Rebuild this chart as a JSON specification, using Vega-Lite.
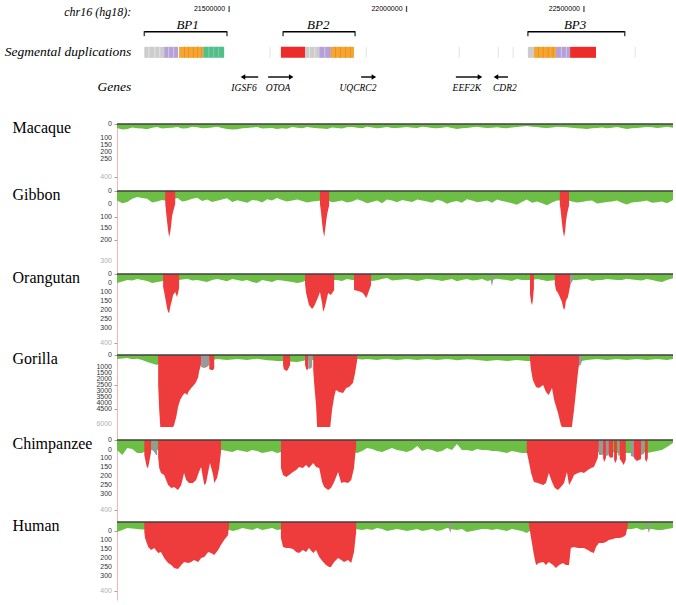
{
  "$schema": "https://vega.github.io/schema/vega-lite/v6.json",
  "background": "white",
  "padding": {"left": 4, "top": 2, "right": 4, "bottom": 2},
  "bounds": "flush",
  "spacing": 0,
  "resolve": {"scale": {"x": "independent", "y": "independent", "color": "independent", "shape": "independent"}},
  "config": {
    "view": {"stroke": null},
    "axisY": {
      "grid": false, "labels": false,
      "tickSize": 3, "tickColor": "#888888", "tickWidth": 0.8,
      "domainColor": "#f2b5b5", "domainWidth": 1,
      "titleAngle": 0, "titleAlign": "left", "titleBaseline": "middle", "titleX": -105, "titleY": 3,
      "titleFont": "Liberation Serif", "titleFontSize": 16, "titleFontWeight": "normal", "titleColor": "#000000"
    }
  },
  "datasets": {
    "ylab": [
      {"sp":"mac","x":21184,"v":0,"lab":"0","last":false},{"sp":"mac","x":21184,"v":100,"lab":"100","last":false},{"sp":"mac","x":21184,"v":150,"lab":"150","last":false},{"sp":"mac","x":21184,"v":200,"lab":"200","last":false},{"sp":"mac","x":21184,"v":250,"lab":"250","last":false},{"sp":"mac","x":21184,"v":380,"lab":"400","last":true},
      {"sp":"gib","x":21184,"v":0,"lab":"0","last":false},{"sp":"gib","x":21184,"v":55,"lab":"0","last":false},{"sp":"gib","x":21184,"v":110,"lab":"100","last":false},{"sp":"gib","x":21184,"v":156,"lab":"150","last":false},{"sp":"gib","x":21184,"v":207,"lab":"200","last":false},{"sp":"gib","x":21184,"v":295,"lab":"300","last":true},
      {"sp":"ora","x":21184,"v":0,"lab":"0","last":false},{"sp":"ora","x":21184,"v":50,"lab":"0","last":false},{"sp":"ora","x":21184,"v":100,"lab":"100","last":false},{"sp":"ora","x":21184,"v":150,"lab":"150","last":false},{"sp":"ora","x":21184,"v":200,"lab":"200","last":false},{"sp":"ora","x":21184,"v":250,"lab":"250","last":false},{"sp":"ora","x":21184,"v":300,"lab":"300","last":false},{"sp":"ora","x":21184,"v":383,"lab":"400","last":true},
      {"sp":"gor","x":21184,"v":0,"lab":"0","last":false},{"sp":"gor","x":21184,"v":1000,"lab":"1000","last":false},{"sp":"gor","x":21184,"v":1500,"lab":"1500","last":false},{"sp":"gor","x":21184,"v":2000,"lab":"2000","last":false},{"sp":"gor","x":21184,"v":2500,"lab":"2500","last":false},{"sp":"gor","x":21184,"v":3000,"lab":"3000","last":false},{"sp":"gor","x":21184,"v":3500,"lab":"3500","last":false},{"sp":"gor","x":21184,"v":4000,"lab":"4000","last":false},{"sp":"gor","x":21184,"v":4500,"lab":"4500","last":false},{"sp":"gor","x":21184,"v":5750,"lab":"6000","last":true},
      {"sp":"chi","x":21184,"v":0,"lab":"0","last":false},{"sp":"chi","x":21184,"v":54,"lab":"0","last":false},{"sp":"chi","x":21184,"v":100,"lab":"100","last":false},{"sp":"chi","x":21184,"v":150,"lab":"150","last":false},{"sp":"chi","x":21184,"v":200,"lab":"200","last":false},{"sp":"chi","x":21184,"v":250,"lab":"250","last":false},{"sp":"chi","x":21184,"v":300,"lab":"300","last":false},{"sp":"chi","x":21184,"v":389,"lab":"400","last":true},
      {"sp":"hum","x":21184,"v":50,"lab":"0","last":false},{"sp":"hum","x":21184,"v":100,"lab":"100","last":false},{"sp":"hum","x":21184,"v":150,"lab":"150","last":false},{"sp":"hum","x":21184,"v":200,"lab":"200","last":false},{"sp":"hum","x":21184,"v":250,"lab":"250","last":false},{"sp":"hum","x":21184,"v":300,"lab":"300","last":false},{"sp":"hum","x":21184,"v":383,"lab":"400","last":true}
    ],
    "bg": [
      {"x":21184,"mac":29,"gib":40,"ora":50,"gor":333,"chi":56,"hum":56},
      {"x":21199,"mac":40,"gib":52,"ora":42,"gor":290,"chi":83,"hum":45},
      {"x":21213,"mac":36,"gib":46,"ora":34,"gor":260,"chi":44,"hum":33},
      {"x":21227,"mac":25,"gib":33,"ora":36,"gor":350,"chi":50,"hum":36},
      {"x":21241,"mac":31,"gib":25,"ora":28,"gor":320,"chi":72,"hum":39},
      {"x":21255,"mac":33,"gib":30,"ora":34,"gor":420,"chi":72,"hum":42},
      {"x":21269,"mac":38,"gib":33,"ora":39,"gor":583,"chi":56,"hum":40},
      {"x":21283,"mac":27,"gib":48,"ora":50,"gor":700,"chi":56,"hum":40},
      {"x":21297,"mac":22,"gib":44,"ora":45,"gor":833,"chi":56,"hum":40},
      {"x":21311,"mac":33,"gib":38,"ora":40,"gor":500,"chi":56,"hum":40},
      {"x":21325,"mac":28,"gib":42,"ora":33,"gor":500,"chi":56,"hum":40},
      {"x":21340,"mac":26,"gib":36,"ora":33,"gor":500,"chi":56,"hum":40},
      {"x":21354,"mac":21,"gib":30,"ora":35,"gor":500,"chi":56,"hum":40},
      {"x":21368,"mac":33,"gib":44,"ora":30,"gor":500,"chi":56,"hum":40},
      {"x":21382,"mac":30,"gib":40,"ora":27,"gor":500,"chi":56,"hum":40},
      {"x":21396,"mac":20,"gib":33,"ora":36,"gor":500,"chi":56,"hum":40},
      {"x":21410,"mac":24,"gib":28,"ora":33,"gor":500,"chi":56,"hum":40},
      {"x":21424,"mac":31,"gib":42,"ora":39,"gor":500,"chi":56,"hum":40},
      {"x":21438,"mac":29,"gib":36,"ora":45,"gor":500,"chi":56,"hum":40},
      {"x":21452,"mac":25,"gib":46,"ora":33,"gor":420,"chi":56,"hum":40},
      {"x":21466,"mac":20,"gib":41,"ora":28,"gor":340,"chi":56,"hum":40},
      {"x":21480,"mac":29,"gib":36,"ora":34,"gor":380,"chi":56,"hum":40},
      {"x":21494,"mac":35,"gib":31,"ora":40,"gor":420,"chi":61,"hum":40},
      {"x":21509,"mac":40,"gib":46,"ora":28,"gor":380,"chi":67,"hum":50},
      {"x":21523,"mac":37,"gib":39,"ora":33,"gor":330,"chi":56,"hum":44},
      {"x":21537,"mac":31,"gib":44,"ora":39,"gor":370,"chi":61,"hum":33},
      {"x":21551,"mac":28,"gib":50,"ora":34,"gor":410,"chi":67,"hum":39},
      {"x":21565,"mac":25,"gib":38,"ora":45,"gor":360,"chi":56,"hum":44},
      {"x":21579,"mac":22,"gib":40,"ora":50,"gor":320,"chi":61,"hum":33},
      {"x":21593,"mac":33,"gib":48,"ora":33,"gor":370,"chi":72,"hum":44},
      {"x":21607,"mac":30,"gib":35,"ora":39,"gor":430,"chi":67,"hum":39},
      {"x":21621,"mac":29,"gib":40,"ora":44,"gor":460,"chi":61,"hum":33},
      {"x":21635,"mac":36,"gib":30,"ora":33,"gor":500,"chi":72,"hum":44},
      {"x":21649,"mac":30,"gib":38,"ora":36,"gor":500,"chi":67,"hum":40},
      {"x":21663,"mac":34,"gib":44,"ora":40,"gor":500,"chi":67,"hum":40},
      {"x":21678,"mac":22,"gib":40,"ora":45,"gor":560,"chi":67,"hum":40},
      {"x":21692,"mac":27,"gib":36,"ora":50,"gor":580,"chi":67,"hum":40},
      {"x":21706,"mac":31,"gib":42,"ora":44,"gor":500,"chi":67,"hum":40},
      {"x":21720,"mac":21,"gib":48,"ora":33,"gor":420,"chi":67,"hum":40},
      {"x":21734,"mac":26,"gib":44,"ora":33,"gor":420,"chi":67,"hum":40},
      {"x":21748,"mac":30,"gib":42,"ora":33,"gor":420,"chi":67,"hum":40},
      {"x":21762,"mac":33,"gib":40,"ora":33,"gor":420,"chi":67,"hum":40},
      {"x":21776,"mac":36,"gib":38,"ora":33,"gor":420,"chi":67,"hum":40},
      {"x":21790,"mac":25,"gib":47,"ora":33,"gor":420,"chi":67,"hum":40},
      {"x":21804,"mac":29,"gib":44,"ora":34,"gor":420,"chi":67,"hum":40},
      {"x":21818,"mac":33,"gib":40,"ora":39,"gor":420,"chi":67,"hum":40},
      {"x":21832,"mac":23,"gib":48,"ora":28,"gor":420,"chi":67,"hum":40},
      {"x":21847,"mac":21,"gib":44,"ora":33,"gor":420,"chi":67,"hum":40},
      {"x":21861,"mac":27,"gib":35,"ora":33,"gor":330,"chi":72,"hum":40},
      {"x":21875,"mac":31,"gib":42,"ora":28,"gor":380,"chi":61,"hum":44},
      {"x":21889,"mac":20,"gib":52,"ora":34,"gor":340,"chi":44,"hum":39},
      {"x":21903,"mac":25,"gib":46,"ora":39,"gor":370,"chi":50,"hum":44},
      {"x":21917,"mac":30,"gib":40,"ora":35,"gor":410,"chi":61,"hum":33},
      {"x":21931,"mac":26,"gib":52,"ora":28,"gor":360,"chi":67,"hum":39},
      {"x":21945,"mac":22,"gib":36,"ora":22,"gor":320,"chi":56,"hum":50},
      {"x":21959,"mac":29,"gib":40,"ora":36,"gor":380,"chi":44,"hum":44},
      {"x":21973,"mac":28,"gib":47,"ora":33,"gor":420,"chi":56,"hum":39},
      {"x":21988,"mac":25,"gib":38,"ora":30,"gor":370,"chi":61,"hum":44},
      {"x":22001,"mac":21,"gib":42,"ora":28,"gor":330,"chi":67,"hum":50},
      {"x":22016,"mac":26,"gib":46,"ora":33,"gor":380,"chi":56,"hum":44},
      {"x":22030,"mac":29,"gib":36,"ora":39,"gor":420,"chi":33,"hum":39},
      {"x":22044,"mac":20,"gib":40,"ora":33,"gor":380,"chi":61,"hum":50},
      {"x":22058,"mac":24,"gib":44,"ora":27,"gor":340,"chi":50,"hum":44},
      {"x":22072,"mac":29,"gib":50,"ora":30,"gor":380,"chi":56,"hum":39},
      {"x":22086,"mac":31,"gib":37,"ora":34,"gor":410,"chi":67,"hum":50},
      {"x":22100,"mac":27,"gib":42,"ora":39,"gor":370,"chi":61,"hum":44},
      {"x":22114,"mac":22,"gib":54,"ora":33,"gor":330,"chi":44,"hum":33},
      {"x":22128,"mac":29,"gib":46,"ora":28,"gor":380,"chi":56,"hum":40},
      {"x":22142,"mac":36,"gib":42,"ora":40,"gor":430,"chi":22,"hum":44},
      {"x":22156,"mac":31,"gib":50,"ora":34,"gor":390,"chi":56,"hum":39},
      {"x":22170,"mac":28,"gib":35,"ora":28,"gor":350,"chi":56,"hum":56},
      {"x":22185,"mac":24,"gib":40,"ora":36,"gor":380,"chi":61,"hum":50},
      {"x":22199,"mac":20,"gib":47,"ora":33,"gor":420,"chi":50,"hum":44},
      {"x":22213,"mac":25,"gib":44,"ora":28,"gor":460,"chi":56,"hum":39},
      {"x":22227,"mac":29,"gib":40,"ora":39,"gor":500,"chi":56,"hum":39},
      {"x":22241,"mac":26,"gib":50,"ora":33,"gor":460,"chi":61,"hum":44},
      {"x":22255,"mac":23,"gib":36,"ora":27,"gor":420,"chi":61,"hum":39},
      {"x":22269,"mac":28,"gib":42,"ora":30,"gor":460,"chi":67,"hum":44},
      {"x":22283,"mac":30,"gib":46,"ora":34,"gor":500,"chi":72,"hum":50},
      {"x":22297,"mac":25,"gib":52,"ora":39,"gor":450,"chi":61,"hum":39},
      {"x":22311,"mac":21,"gib":58,"ora":28,"gor":410,"chi":67,"hum":44},
      {"x":22325,"mac":18,"gib":46,"ora":33,"gor":450,"chi":72,"hum":50},
      {"x":22339,"mac":15,"gib":36,"ora":33,"gor":500,"chi":72,"hum":61},
      {"x":22354,"mac":20,"gib":50,"ora":33,"gor":500,"chi":67,"hum":40},
      {"x":22368,"mac":22,"gib":44,"ora":28,"gor":500,"chi":67,"hum":40},
      {"x":22382,"mac":26,"gib":52,"ora":33,"gor":500,"chi":67,"hum":40},
      {"x":22396,"mac":29,"gib":60,"ora":39,"gor":500,"chi":67,"hum":40},
      {"x":22410,"mac":25,"gib":48,"ora":36,"gor":500,"chi":67,"hum":40},
      {"x":22424,"mac":20,"gib":40,"ora":33,"gor":500,"chi":67,"hum":40},
      {"x":22438,"mac":22,"gib":40,"ora":33,"gor":500,"chi":67,"hum":40},
      {"x":22452,"mac":23,"gib":38,"ora":33,"gor":500,"chi":67,"hum":40},
      {"x":22466,"mac":27,"gib":44,"ora":33,"gor":500,"chi":67,"hum":40},
      {"x":22480,"mac":30,"gib":48,"ora":34,"gor":500,"chi":67,"hum":40},
      {"x":22494,"mac":33,"gib":46,"ora":30,"gor":500,"chi":67,"hum":40},
      {"x":22508,"mac":36,"gib":42,"ora":27,"gor":420,"chi":67,"hum":40},
      {"x":22523,"mac":30,"gib":40,"ora":39,"gor":380,"chi":67,"hum":40},
      {"x":22537,"mac":28,"gib":53,"ora":33,"gor":330,"chi":67,"hum":40},
      {"x":22551,"mac":25,"gib":50,"ora":33,"gor":380,"chi":72,"hum":40},
      {"x":22565,"mac":30,"gib":46,"ora":28,"gor":420,"chi":72,"hum":40},
      {"x":22579,"mac":27,"gib":44,"ora":30,"gor":380,"chi":67,"hum":40},
      {"x":22593,"mac":21,"gib":40,"ora":34,"gor":340,"chi":72,"hum":40},
      {"x":22607,"mac":29,"gib":50,"ora":33,"gor":370,"chi":72,"hum":40},
      {"x":22621,"mac":35,"gib":57,"ora":27,"gor":420,"chi":72,"hum":40},
      {"x":22635,"mac":31,"gib":48,"ora":30,"gor":380,"chi":72,"hum":39},
      {"x":22649,"mac":28,"gib":46,"ora":33,"gor":330,"chi":72,"hum":33},
      {"x":22663,"mac":25,"gib":44,"ora":36,"gor":370,"chi":67,"hum":44},
      {"x":22677,"mac":22,"gib":40,"ora":28,"gor":410,"chi":72,"hum":39},
      {"x":22692,"mac":24,"gib":50,"ora":33,"gor":380,"chi":67,"hum":39},
      {"x":22706,"mac":29,"gib":47,"ora":40,"gor":340,"chi":61,"hum":44},
      {"x":22720,"mac":25,"gib":44,"ora":44,"gor":380,"chi":56,"hum":44},
      {"x":22734,"mac":20,"gib":52,"ora":34,"gor":420,"chi":39,"hum":39},
      {"x":22751,"mac":27,"gib":38,"ora":24,"gor":330,"chi":17,"hum":33}
    ],
    "pk": [
      {"sp":"gib","g":"g1","c":"r","x":21320,"d":50},{"sp":"gib","g":"g1","c":"r","x":21322,"d":84},{"sp":"gib","g":"g1","c":"r","x":21325,"d":127},{"sp":"gib","g":"g1","c":"r","x":21328,"d":165},{"sp":"gib","g":"g1","c":"r","x":21331,"d":194},{"sp":"gib","g":"g1","c":"r","x":21334,"d":175},{"sp":"gib","g":"g1","c":"r","x":21337,"d":139},{"sp":"gib","g":"g1","c":"r","x":21339,"d":110},{"sp":"gib","g":"g1","c":"r","x":21342,"d":88},{"sp":"gib","g":"g1","c":"r","x":21345,"d":72},{"sp":"gib","g":"g1","c":"r","x":21348,"d":55},
      {"sp":"gib","g":"g2","c":"r","x":21756,"d":55},{"sp":"gib","g":"g2","c":"r","x":21759,"d":90},{"sp":"gib","g":"g2","c":"r","x":21762,"d":135},{"sp":"gib","g":"g2","c":"r","x":21765,"d":170},{"sp":"gib","g":"g2","c":"r","x":21768,"d":194},{"sp":"gib","g":"g2","c":"r","x":21770,"d":170},{"sp":"gib","g":"g2","c":"r","x":21773,"d":135},{"sp":"gib","g":"g2","c":"r","x":21776,"d":100},{"sp":"gib","g":"g2","c":"r","x":21779,"d":80},{"sp":"gib","g":"g2","c":"r","x":21782,"d":60},
      {"sp":"gib","g":"g3","c":"r","x":22432,"d":55},{"sp":"gib","g":"g3","c":"r","x":22435,"d":90},{"sp":"gib","g":"g3","c":"r","x":22438,"d":135},{"sp":"gib","g":"g3","c":"r","x":22441,"d":170},{"sp":"gib","g":"g3","c":"r","x":22444,"d":194},{"sp":"gib","g":"g3","c":"r","x":22447,"d":170},{"sp":"gib","g":"g3","c":"r","x":22449,"d":135},{"sp":"gib","g":"g3","c":"r","x":22452,"d":100},{"sp":"gib","g":"g3","c":"r","x":22455,"d":80},{"sp":"gib","g":"g3","c":"r","x":22458,"d":60},

      {"sp":"ora","g":"o1","c":"r","x":21314,"d":72},{"sp":"ora","g":"o1","c":"r","x":21317,"d":100},{"sp":"ora","g":"o1","c":"r","x":21322,"d":156},{"sp":"ora","g":"o1","c":"r","x":21325,"d":189},{"sp":"ora","g":"o1","c":"r","x":21328,"d":211},{"sp":"ora","g":"o1","c":"r","x":21331,"d":217},{"sp":"ora","g":"o1","c":"r","x":21334,"d":183},{"sp":"ora","g":"o1","c":"r","x":21339,"d":144},{"sp":"ora","g":"o1","c":"r","x":21342,"d":117},{"sp":"ora","g":"o1","c":"r","x":21348,"d":100},{"sp":"ora","g":"o1","c":"r","x":21351,"d":117},{"sp":"ora","g":"o1","c":"r","x":21353,"d":128},{"sp":"ora","g":"o1","c":"r","x":21356,"d":106},{"sp":"ora","g":"o1","c":"r","x":21359,"d":78},
      {"sp":"ora","g":"o2","c":"r","x":21714,"d":56},{"sp":"ora","g":"o2","c":"r","x":21717,"d":106},{"sp":"ora","g":"o2","c":"r","x":21725,"d":172},{"sp":"ora","g":"o2","c":"r","x":21734,"d":194},{"sp":"ora","g":"o2","c":"r","x":21740,"d":178},{"sp":"ora","g":"o2","c":"r","x":21751,"d":128},{"sp":"ora","g":"o2","c":"r","x":21756,"d":100},{"sp":"ora","g":"o2","c":"r","x":21762,"d":161},{"sp":"ora","g":"o2","c":"r","x":21765,"d":211},{"sp":"ora","g":"o2","c":"r","x":21770,"d":183},{"sp":"ora","g":"o2","c":"r","x":21779,"d":106},{"sp":"ora","g":"o2","c":"r","x":21787,"d":117},{"sp":"ora","g":"o2","c":"r","x":21796,"d":89},
      {"sp":"ora","g":"o3","c":"r","x":21852,"d":89},{"sp":"ora","g":"o3","c":"r","x":21863,"d":94},{"sp":"ora","g":"o3","c":"r","x":21872,"d":100},{"sp":"ora","g":"o3","c":"r","x":21877,"d":106},{"sp":"ora","g":"o3","c":"r","x":21883,"d":122},{"sp":"ora","g":"o3","c":"r","x":21886,"d":133},{"sp":"ora","g":"o3","c":"r","x":21889,"d":122},{"sp":"ora","g":"o3","c":"r","x":21894,"d":94},{"sp":"ora","g":"o3","c":"r","x":21900,"d":61},
      {"sp":"ora","g":"o4","c":"k","x":22238,"d":44},{"sp":"ora","g":"o4","c":"k","x":22241,"d":67},{"sp":"ora","g":"o4","c":"k","x":22244,"d":33},
      {"sp":"ora","g":"o5","c":"r","x":22348,"d":111},{"sp":"ora","g":"o5","c":"r","x":22351,"d":156},{"sp":"ora","g":"o5","c":"r","x":22354,"d":172},{"sp":"ora","g":"o5","c":"r","x":22356,"d":144},{"sp":"ora","g":"o5","c":"r","x":22359,"d":78},
      {"sp":"ora","g":"o6","c":"r","x":22418,"d":56},{"sp":"ora","g":"o6","c":"r","x":22421,"d":89},{"sp":"ora","g":"o6","c":"r","x":22427,"d":106},{"sp":"ora","g":"o6","c":"r","x":22432,"d":128},{"sp":"ora","g":"o6","c":"r","x":22438,"d":156},{"sp":"ora","g":"o6","c":"r","x":22441,"d":183},{"sp":"ora","g":"o6","c":"r","x":22444,"d":200},{"sp":"ora","g":"o6","c":"r","x":22447,"d":183},{"sp":"ora","g":"o6","c":"r","x":22449,"d":150},{"sp":"ora","g":"o6","c":"r","x":22455,"d":128},{"sp":"ora","g":"o6","c":"r","x":22461,"d":67},
      {"sp":"ora","g":"o7","c":"k","x":22461,"d":67},{"sp":"ora","g":"o7","c":"k","x":22463,"d":56},{"sp":"ora","g":"o7","c":"k","x":22469,"d":33},

      {"sp":"gor","g":"r1","c":"r","x":21300,"d":2500},{"sp":"gor","g":"r1","c":"r","x":21303,"d":4583},{"sp":"gor","g":"r1","c":"r","x":21306,"d":6000},{"sp":"gor","g":"r1","c":"r","x":21342,"d":6000},{"sp":"gor","g":"r1","c":"r","x":21345,"d":5833},{"sp":"gor","g":"r1","c":"r","x":21351,"d":5167},{"sp":"gor","g":"r1","c":"r","x":21356,"d":4333},{"sp":"gor","g":"r1","c":"r","x":21362,"d":3750},{"sp":"gor","g":"r1","c":"r","x":21370,"d":3333},{"sp":"gor","g":"r1","c":"r","x":21376,"d":3167},{"sp":"gor","g":"r1","c":"r","x":21382,"d":3333},{"sp":"gor","g":"r1","c":"r","x":21385,"d":3083},{"sp":"gor","g":"r1","c":"r","x":21393,"d":2750},{"sp":"gor","g":"r1","c":"r","x":21401,"d":2500},{"sp":"gor","g":"r1","c":"r","x":21407,"d":2250},{"sp":"gor","g":"r1","c":"r","x":21413,"d":1833},{"sp":"gor","g":"r1","c":"r","x":21415,"d":1417},{"sp":"gor","g":"r1","c":"r","x":21421,"d":750},
      {"sp":"gor","g":"k1","c":"k","x":21421,"d":1000},{"sp":"gor","g":"k1","c":"k","x":21430,"d":1083},{"sp":"gor","g":"k1","c":"k","x":21438,"d":1000},{"sp":"gor","g":"k1","c":"k","x":21444,"d":833},
      {"sp":"gor","g":"r2","c":"r","x":21444,"d":1167},{"sp":"gor","g":"r2","c":"r","x":21449,"d":1250},{"sp":"gor","g":"r2","c":"r","x":21455,"d":1250},{"sp":"gor","g":"r2","c":"r","x":21458,"d":1083},
      {"sp":"gor","g":"r3","c":"r","x":21652,"d":833},{"sp":"gor","g":"r3","c":"r","x":21654,"d":1167},{"sp":"gor","g":"r3","c":"r","x":21661,"d":1333},{"sp":"gor","g":"r3","c":"r","x":21665,"d":1250},{"sp":"gor","g":"r3","c":"r","x":21672,"d":833},
      {"sp":"gor","g":"r4","c":"r","x":21714,"d":833},{"sp":"gor","g":"r4","c":"r","x":21717,"d":1167},{"sp":"gor","g":"r4","c":"r","x":21720,"d":1250},{"sp":"gor","g":"r4","c":"r","x":21723,"d":1167},
      {"sp":"gor","g":"k2","c":"k","x":21723,"d":1083},{"sp":"gor","g":"k2","c":"k","x":21728,"d":1167},{"sp":"gor","g":"k2","c":"k","x":21734,"d":1000},
      {"sp":"gor","g":"r5","c":"r","x":21737,"d":1250},{"sp":"gor","g":"r5","c":"r","x":21740,"d":2500},{"sp":"gor","g":"r5","c":"r","x":21745,"d":4167},{"sp":"gor","g":"r5","c":"r","x":21748,"d":6000},{"sp":"gor","g":"r5","c":"r","x":21785,"d":6000},{"sp":"gor","g":"r5","c":"r","x":21790,"d":4583},{"sp":"gor","g":"r5","c":"r","x":21796,"d":3500},{"sp":"gor","g":"r5","c":"r","x":21801,"d":2917},{"sp":"gor","g":"r5","c":"r","x":21810,"d":3083},{"sp":"gor","g":"r5","c":"r","x":21821,"d":3167},{"sp":"gor","g":"r5","c":"r","x":21830,"d":2750},{"sp":"gor","g":"r5","c":"r","x":21838,"d":2667},{"sp":"gor","g":"r5","c":"r","x":21849,"d":2333},{"sp":"gor","g":"r5","c":"r","x":21855,"d":1500},{"sp":"gor","g":"r5","c":"r","x":21861,"d":417},
      {"sp":"gor","g":"r6","c":"r","x":22348,"d":417},{"sp":"gor","g":"r6","c":"r","x":22351,"d":1250},{"sp":"gor","g":"r6","c":"r","x":22356,"d":2083},{"sp":"gor","g":"r6","c":"r","x":22365,"d":2667},{"sp":"gor","g":"r6","c":"r","x":22373,"d":2750},{"sp":"gor","g":"r6","c":"r","x":22385,"d":2500},{"sp":"gor","g":"r6","c":"r","x":22393,"d":3083},{"sp":"gor","g":"r6","c":"r","x":22401,"d":3333},{"sp":"gor","g":"r6","c":"r","x":22410,"d":2750},{"sp":"gor","g":"r6","c":"r","x":22416,"d":3750},{"sp":"gor","g":"r6","c":"r","x":22427,"d":4833},{"sp":"gor","g":"r6","c":"r","x":22435,"d":5833},{"sp":"gor","g":"r6","c":"r","x":22438,"d":6000},{"sp":"gor","g":"r6","c":"r","x":22466,"d":6000},{"sp":"gor","g":"r6","c":"r","x":22472,"d":4583},{"sp":"gor","g":"r6","c":"r","x":22478,"d":2917},{"sp":"gor","g":"r6","c":"r","x":22483,"d":1500},{"sp":"gor","g":"r6","c":"r","x":22486,"d":833},
      {"sp":"gor","g":"k3","c":"k","x":22486,"d":833},{"sp":"gor","g":"k3","c":"k","x":22489,"d":917},{"sp":"gor","g":"k3","c":"k","x":22494,"d":583},

      {"sp":"chi","g":"c1","c":"r","x":21261,"d":83},{"sp":"chi","g":"c1","c":"r","x":21266,"d":133},{"sp":"chi","g":"c1","c":"r","x":21269,"d":156},{"sp":"chi","g":"c1","c":"r","x":21272,"d":150},{"sp":"chi","g":"c1","c":"r","x":21277,"d":100},{"sp":"chi","g":"c1","c":"r","x":21280,"d":67},
      {"sp":"chi","g":"c2","c":"k","x":21283,"d":56},{"sp":"chi","g":"c2","c":"k","x":21289,"d":67},{"sp":"chi","g":"c2","c":"k","x":21294,"d":83},{"sp":"chi","g":"c2","c":"k","x":21297,"d":83},
      {"sp":"chi","g":"c3","c":"r","x":21300,"d":94},{"sp":"chi","g":"c3","c":"r","x":21303,"d":156},{"sp":"chi","g":"c3","c":"r","x":21308,"d":183},{"sp":"chi","g":"c3","c":"r","x":21317,"d":194},{"sp":"chi","g":"c3","c":"r","x":21328,"d":250},{"sp":"chi","g":"c3","c":"r","x":21337,"d":267},{"sp":"chi","g":"c3","c":"r","x":21345,"d":261},{"sp":"chi","g":"c3","c":"r","x":21356,"d":278},{"sp":"chi","g":"c3","c":"r","x":21365,"d":250},{"sp":"chi","g":"c3","c":"r","x":21373,"d":183},{"sp":"chi","g":"c3","c":"r","x":21379,"d":222},{"sp":"chi","g":"c3","c":"r","x":21387,"d":239},{"sp":"chi","g":"c3","c":"r","x":21398,"d":239},{"sp":"chi","g":"c3","c":"r","x":21407,"d":222},{"sp":"chi","g":"c3","c":"r","x":21415,"d":178},{"sp":"chi","g":"c3","c":"r","x":21421,"d":150},{"sp":"chi","g":"c3","c":"r","x":21430,"d":250},{"sp":"chi","g":"c3","c":"r","x":21435,"d":239},{"sp":"chi","g":"c3","c":"r","x":21441,"d":178},{"sp":"chi","g":"c3","c":"r","x":21446,"d":128},{"sp":"chi","g":"c3","c":"r","x":21455,"d":194},{"sp":"chi","g":"c3","c":"r","x":21458,"d":239},{"sp":"chi","g":"c3","c":"r","x":21466,"d":211},{"sp":"chi","g":"c3","c":"r","x":21472,"d":156},{"sp":"chi","g":"c3","c":"r","x":21477,"d":67},
      {"sp":"chi","g":"c4","c":"r","x":21646,"d":156},{"sp":"chi","g":"c4","c":"r","x":21652,"d":194},{"sp":"chi","g":"c4","c":"r","x":21661,"d":206},{"sp":"chi","g":"c4","c":"r","x":21669,"d":194},{"sp":"chi","g":"c4","c":"r","x":21680,"d":178},{"sp":"chi","g":"c4","c":"r","x":21689,"d":167},{"sp":"chi","g":"c4","c":"r","x":21697,"d":150},{"sp":"chi","g":"c4","c":"r","x":21708,"d":156},{"sp":"chi","g":"c4","c":"r","x":21717,"d":139},{"sp":"chi","g":"c4","c":"r","x":21725,"d":156},{"sp":"chi","g":"c4","c":"r","x":21737,"d":128},{"sp":"chi","g":"c4","c":"r","x":21745,"d":150},{"sp":"chi","g":"c4","c":"r","x":21754,"d":156},{"sp":"chi","g":"c4","c":"r","x":21762,"d":233},{"sp":"chi","g":"c4","c":"r","x":21768,"d":261},{"sp":"chi","g":"c4","c":"r","x":21779,"d":278},{"sp":"chi","g":"c4","c":"r","x":21787,"d":267},{"sp":"chi","g":"c4","c":"r","x":21796,"d":233},{"sp":"chi","g":"c4","c":"r","x":21807,"d":178},{"sp":"chi","g":"c4","c":"r","x":21816,"d":239},{"sp":"chi","g":"c4","c":"r","x":21824,"d":233},{"sp":"chi","g":"c4","c":"r","x":21835,"d":239},{"sp":"chi","g":"c4","c":"r","x":21844,"d":222},{"sp":"chi","g":"c4","c":"r","x":21852,"d":156},{"sp":"chi","g":"c4","c":"r","x":21858,"d":28},
      {"sp":"chi","g":"c5","c":"r","x":22339,"d":67},{"sp":"chi","g":"c5","c":"r","x":22345,"d":122},{"sp":"chi","g":"c5","c":"r","x":22351,"d":183},{"sp":"chi","g":"c5","c":"r","x":22359,"d":233},{"sp":"chi","g":"c5","c":"r","x":22370,"d":239},{"sp":"chi","g":"c5","c":"r","x":22385,"d":250},{"sp":"chi","g":"c5","c":"r","x":22393,"d":239},{"sp":"chi","g":"c5","c":"r","x":22401,"d":183},{"sp":"chi","g":"c5","c":"r","x":22410,"d":233},{"sp":"chi","g":"c5","c":"r","x":22418,"d":267},{"sp":"chi","g":"c5","c":"r","x":22427,"d":278},{"sp":"chi","g":"c5","c":"r","x":22435,"d":261},{"sp":"chi","g":"c5","c":"r","x":22444,"d":239},{"sp":"chi","g":"c5","c":"r","x":22452,"d":178},{"sp":"chi","g":"c5","c":"r","x":22458,"d":250},{"sp":"chi","g":"c5","c":"r","x":22466,"d":222},{"sp":"chi","g":"c5","c":"r","x":22472,"d":194},{"sp":"chi","g":"c5","c":"r","x":22483,"d":183},{"sp":"chi","g":"c5","c":"r","x":22492,"d":178},{"sp":"chi","g":"c5","c":"r","x":22500,"d":183},{"sp":"chi","g":"c5","c":"r","x":22511,"d":167},{"sp":"chi","g":"c5","c":"r","x":22520,"d":156},{"sp":"chi","g":"c5","c":"r","x":22528,"d":150},{"sp":"chi","g":"c5","c":"r","x":22539,"d":100},{"sp":"chi","g":"c5","c":"r","x":22542,"d":28},
      {"sp":"chi","g":"c6","c":"k","x":22542,"d":83},{"sp":"chi","g":"c6","c":"k","x":22554,"d":83},
      {"sp":"chi","g":"c7","c":"r","x":22554,"d":100},{"sp":"chi","g":"c7","c":"r","x":22557,"d":122},{"sp":"chi","g":"c7","c":"r","x":22562,"d":100},
      {"sp":"chi","g":"c8","c":"k","x":22562,"d":89},{"sp":"chi","g":"c8","c":"k","x":22570,"d":83},
      {"sp":"chi","g":"c9","c":"r","x":22570,"d":89},{"sp":"chi","g":"c9","c":"r","x":22576,"d":100},{"sp":"chi","g":"c9","c":"r","x":22582,"d":94},
      {"sp":"chi","g":"c10","c":"r","x":22585,"d":111},{"sp":"chi","g":"c10","c":"r","x":22589,"d":128},{"sp":"chi","g":"c10","c":"r","x":22593,"d":106},
      {"sp":"chi","g":"c11","c":"k","x":22596,"d":83},{"sp":"chi","g":"c11","c":"k","x":22601,"d":89},
      {"sp":"chi","g":"c12","c":"r","x":22601,"d":106},{"sp":"chi","g":"c12","c":"r","x":22607,"d":122},{"sp":"chi","g":"c12","c":"r","x":22612,"d":139},{"sp":"chi","g":"c12","c":"r","x":22618,"d":111},
      {"sp":"chi","g":"c13","c":"k","x":22632,"d":89},{"sp":"chi","g":"c13","c":"k","x":22641,"d":94},
      {"sp":"chi","g":"c14","c":"r","x":22641,"d":100},{"sp":"chi","g":"c14","c":"r","x":22649,"d":117},{"sp":"chi","g":"c14","c":"r","x":22655,"d":111},{"sp":"chi","g":"c14","c":"r","x":22661,"d":106},
      {"sp":"chi","g":"c15","c":"k","x":22661,"d":83},{"sp":"chi","g":"c15","c":"k","x":22669,"d":78},
      {"sp":"chi","g":"c16","c":"r","x":22672,"d":106},{"sp":"chi","g":"c16","c":"r","x":22676,"d":122},{"sp":"chi","g":"c16","c":"r","x":22680,"d":100},

      {"sp":"hum","g":"h1","c":"r","x":21261,"d":56},{"sp":"hum","g":"h1","c":"r","x":21263,"d":89},{"sp":"hum","g":"h1","c":"r","x":21272,"d":139},{"sp":"hum","g":"h1","c":"r","x":21280,"d":156},{"sp":"hum","g":"h1","c":"r","x":21289,"d":144},{"sp":"hum","g":"h1","c":"r","x":21300,"d":172},{"sp":"hum","g":"h1","c":"r","x":21308,"d":167},{"sp":"hum","g":"h1","c":"r","x":21317,"d":200},{"sp":"hum","g":"h1","c":"r","x":21328,"d":228},{"sp":"hum","g":"h1","c":"r","x":21337,"d":239},{"sp":"hum","g":"h1","c":"r","x":21345,"d":256},{"sp":"hum","g":"h1","c":"r","x":21356,"d":261},{"sp":"hum","g":"h1","c":"r","x":21365,"d":239},{"sp":"hum","g":"h1","c":"r","x":21373,"d":222},{"sp":"hum","g":"h1","c":"r","x":21385,"d":228},{"sp":"hum","g":"h1","c":"r","x":21393,"d":222},{"sp":"hum","g":"h1","c":"r","x":21401,"d":211},{"sp":"hum","g":"h1","c":"r","x":21413,"d":222},{"sp":"hum","g":"h1","c":"r","x":21421,"d":200},{"sp":"hum","g":"h1","c":"r","x":21430,"d":194},{"sp":"hum","g":"h1","c":"r","x":21441,"d":167},{"sp":"hum","g":"h1","c":"r","x":21449,"d":172},{"sp":"hum","g":"h1","c":"r","x":21458,"d":183},{"sp":"hum","g":"h1","c":"r","x":21469,"d":156},{"sp":"hum","g":"h1","c":"r","x":21477,"d":128},{"sp":"hum","g":"h1","c":"r","x":21486,"d":100},{"sp":"hum","g":"h1","c":"r","x":21497,"d":72},{"sp":"hum","g":"h1","c":"r","x":21500,"d":17},
      {"sp":"hum","g":"h2","c":"r","x":21646,"d":89},{"sp":"hum","g":"h2","c":"r","x":21652,"d":139},{"sp":"hum","g":"h2","c":"r","x":21661,"d":144},{"sp":"hum","g":"h2","c":"r","x":21669,"d":144},{"sp":"hum","g":"h2","c":"r","x":21680,"d":150},{"sp":"hum","g":"h2","c":"r","x":21689,"d":167},{"sp":"hum","g":"h2","c":"r","x":21697,"d":172},{"sp":"hum","g":"h2","c":"r","x":21708,"d":156},{"sp":"hum","g":"h2","c":"r","x":21717,"d":167},{"sp":"hum","g":"h2","c":"r","x":21725,"d":144},{"sp":"hum","g":"h2","c":"r","x":21737,"d":172},{"sp":"hum","g":"h2","c":"r","x":21745,"d":156},{"sp":"hum","g":"h2","c":"r","x":21754,"d":194},{"sp":"hum","g":"h2","c":"r","x":21765,"d":222},{"sp":"hum","g":"h2","c":"r","x":21773,"d":239},{"sp":"hum","g":"h2","c":"r","x":21782,"d":250},{"sp":"hum","g":"h2","c":"r","x":21787,"d":250},{"sp":"hum","g":"h2","c":"r","x":21796,"d":222},{"sp":"hum","g":"h2","c":"r","x":21807,"d":200},{"sp":"hum","g":"h2","c":"r","x":21816,"d":211},{"sp":"hum","g":"h2","c":"r","x":21824,"d":222},{"sp":"hum","g":"h2","c":"r","x":21835,"d":211},{"sp":"hum","g":"h2","c":"r","x":21844,"d":228},{"sp":"hum","g":"h2","c":"r","x":21852,"d":167},{"sp":"hum","g":"h2","c":"r","x":21858,"d":56},
      {"sp":"hum","g":"h3","c":"k","x":22120,"d":39},{"sp":"hum","g":"h3","c":"k","x":22123,"d":61},{"sp":"hum","g":"h3","c":"k","x":22126,"d":39},
      {"sp":"hum","g":"h4","c":"r","x":22345,"d":17},{"sp":"hum","g":"h4","c":"r","x":22351,"d":89},{"sp":"hum","g":"h4","c":"r","x":22359,"d":183},{"sp":"hum","g":"h4","c":"r","x":22365,"d":239},{"sp":"hum","g":"h4","c":"r","x":22373,"d":228},{"sp":"hum","g":"h4","c":"r","x":22385,"d":222},{"sp":"hum","g":"h4","c":"r","x":22393,"d":239},{"sp":"hum","g":"h4","c":"r","x":22401,"d":222},{"sp":"hum","g":"h4","c":"r","x":22413,"d":239},{"sp":"hum","g":"h4","c":"r","x":22421,"d":256},{"sp":"hum","g":"h4","c":"r","x":22430,"d":239},{"sp":"hum","g":"h4","c":"r","x":22441,"d":228},{"sp":"hum","g":"h4","c":"r","x":22449,"d":239},{"sp":"hum","g":"h4","c":"r","x":22458,"d":239},{"sp":"hum","g":"h4","c":"r","x":22463,"d":144},{"sp":"hum","g":"h4","c":"r","x":22472,"d":139},{"sp":"hum","g":"h4","c":"r","x":22483,"d":144},{"sp":"hum","g":"h4","c":"r","x":22492,"d":144},{"sp":"hum","g":"h4","c":"r","x":22500,"d":144},{"sp":"hum","g":"h4","c":"r","x":22511,"d":156},{"sp":"hum","g":"h4","c":"r","x":22520,"d":167},{"sp":"hum","g":"h4","c":"r","x":22528,"d":172},{"sp":"hum","g":"h4","c":"r","x":22534,"d":139},{"sp":"hum","g":"h4","c":"r","x":22542,"d":117},{"sp":"hum","g":"h4","c":"r","x":22554,"d":117},{"sp":"hum","g":"h4","c":"r","x":22562,"d":111},{"sp":"hum","g":"h4","c":"r","x":22570,"d":100},{"sp":"hum","g":"h4","c":"r","x":22582,"d":94},{"sp":"hum","g":"h4","c":"r","x":22590,"d":89},{"sp":"hum","g":"h4","c":"r","x":22601,"d":89},{"sp":"hum","g":"h4","c":"r","x":22610,"d":83},{"sp":"hum","g":"h4","c":"r","x":22618,"d":72},{"sp":"hum","g":"h4","c":"r","x":22624,"d":17},
      {"sp":"hum","g":"h5","c":"k","x":22680,"d":39},{"sp":"hum","g":"h5","c":"k","x":22683,"d":61},{"sp":"hum","g":"h5","c":"k","x":22686,"d":39}
    ],
    "hticks": [
      {"x":21500,"t":"21500000","tr":"coord"},{"x":22000,"t":"22000000","tr":"coord"},{"x":22500,"t":"22500000","tr":"coord"}
    ],
    "bp": [
      {"b":"BP1","s":21261,"e":21494,"m":21383,"tr":"bp"},
      {"b":"BP2","s":21652,"e":21855,"m":21751,"tr":"bp"},
      {"b":"BP3","s":22342,"e":22615,"m":22475,"tr":"bp"}
    ],
    "bpends": [
      {"x":21261,"tr":"bp"},{"x":21494,"tr":"bp"},{"x":21652,"tr":"bp"},{"x":21855,"tr":"bp"},{"x":22342,"tr":"bp"},{"x":22615,"tr":"bp"}
    ],
    "sd": [
      {"s":21261,"e":21317,"c":"gray","tr":"sd"},{"s":21317,"e":21356,"c":"purple","tr":"sd"},{"s":21359,"e":21427,"c":"orange","tr":"sd"},{"s":21427,"e":21486,"c":"green","tr":"sd"},
      {"s":21646,"e":21714,"c":"red","tr":"sd"},{"s":21714,"e":21754,"c":"gray","tr":"sd"},{"s":21754,"e":21787,"c":"purple","tr":"sd"},{"s":21787,"e":21852,"c":"orange","tr":"sd"},
      {"s":22342,"e":22359,"c":"gray","tr":"sd"},{"s":22359,"e":22421,"c":"orange","tr":"sd"},{"s":22421,"e":22461,"c":"purple","tr":"sd"},{"s":22461,"e":22534,"c":"red","tr":"sd"},
      {"s":21614,"e":21617,"c":"faint","tr":"sd"},{"s":21885,"e":21888,"c":"faint","tr":"sd"},{"s":22147,"e":22150,"c":"faint","tr":"sd"},{"s":22257,"e":22260,"c":"faint","tr":"sd"},{"s":22299,"e":22302,"c":"faint","tr":"sd"},{"s":22643,"e":22646,"c":"faint","tr":"sd"},
      {"s":21272,"e":21275,"c":"gray2","tr":"sd"},{"s":21289,"e":21292,"c":"gray2","tr":"sd"},{"s":21303,"e":21306,"c":"gray2","tr":"sd"},
      {"s":21328,"e":21331,"c":"purple2","tr":"sd"},{"s":21342,"e":21345,"c":"purple2","tr":"sd"},
      {"s":21373,"e":21375,"c":"orange2","tr":"sd"},{"s":21385,"e":21387,"c":"orange2","tr":"sd"},{"s":21398,"e":21400,"c":"orange2","tr":"sd"},{"s":21410,"e":21412,"c":"orange2","tr":"sd"},{"s":21421,"e":21423,"c":"orange2","tr":"sd"},
      {"s":21441,"e":21444,"c":"green2","tr":"sd"},{"s":21455,"e":21458,"c":"green2","tr":"sd"},{"s":21469,"e":21472,"c":"green2","tr":"sd"},
      {"s":21725,"e":21728,"c":"gray2","tr":"sd"},{"s":21740,"e":21743,"c":"gray2","tr":"sd"},{"s":21768,"e":21771,"c":"purple2","tr":"sd"},
      {"s":21799,"e":21801,"c":"orange2","tr":"sd"},{"s":21813,"e":21815,"c":"orange2","tr":"sd"},{"s":21827,"e":21829,"c":"orange2","tr":"sd"},{"s":21841,"e":21843,"c":"orange2","tr":"sd"},
      {"s":22370,"e":22372,"c":"orange2","tr":"sd"},{"s":22384,"e":22386,"c":"orange2","tr":"sd"},{"s":22398,"e":22400,"c":"orange2","tr":"sd"},{"s":22412,"e":22414,"c":"orange2","tr":"sd"},
      {"s":22435,"e":22438,"c":"purple2","tr":"sd"},{"s":22449,"e":22452,"c":"purple2","tr":"sd"}
    ],
    "genes": [
      {"n":"IGSF6","s":21539,"e":21582,"h":21539,"dir":"l","m":21542,"tr":"gene"},
      {"n":"OTOA","s":21610,"e":21675,"h":21675,"dir":"r","m":21638,"tr":"gene"},
      {"n":"UQCRC2","s":21872,"e":21908,"h":21908,"dir":"r","m":21863,"tr":"gene"},
      {"n":"EEF2K","s":22139,"e":22207,"h":22207,"dir":"r","m":22170,"tr":"gene"},
      {"n":"CDR2","s":22252,"e":22286,"h":22252,"dir":"l","m":22277,"tr":"gene"}
    ],
    "rowlab": [
      {"t":"chr16 (hg18):","tr":"coord","x":21224},
      {"t":"Segmental duplications","tr":"sd","x":21224},
      {"t":"Genes","tr":"gene","x":21224}
    ]
  },
  "vconcat": [
    {
      "width": 556, "height": 122,
      "encoding": {
        "y": {"field": "tr", "type": "nominal", "scale": {"type": "point", "domain": ["coord","bp","sd","gene"], "range": [7, 75], "padding": 0}, "axis": null}
      },
      "layer": [
        {"data": {"name": "hticks"},
         "mark": {"type": "text", "align": "right", "dx": -4, "font": "Liberation Sans", "fontSize": 7, "color": "#000000"},
         "encoding": {
           "x": {"field": "x", "type": "quantitative", "scale": {"domain": [21184, 22751], "nice": false, "zero": false}, "axis": null},
           "text": {"field": "t"}}},
        {"data": {"name": "hticks"},
         "mark": {"type": "tick", "size": 6, "thickness": 1.3, "color": "#000000"},
         "encoding": {
           "x": {"field": "x", "type": "quantitative", "scale": {"domain": [21184, 22751], "nice": false, "zero": false}, "axis": null}}},
        {"data": {"name": "rowlab"}, "transform": [{"filter": "datum.tr=='coord'"}],
         "mark": {"type": "text", "align": "right", "dy": 3, "font": "Liberation Serif", "fontStyle": "italic", "fontSize": 12, "color": "#000000"},
         "encoding": {"x": {"field": "x", "type": "quantitative", "scale": {"domain": [21184, 22751], "nice": false, "zero": false}, "axis": null}, "text": {"field": "t"}}},
        {"data": {"name": "rowlab"}, "transform": [{"filter": "datum.tr=='sd'"}],
         "mark": {"type": "text", "align": "right", "dy": -2, "font": "Liberation Serif", "fontStyle": "italic", "fontSize": 13.5, "color": "#000000"},
         "encoding": {"x": {"field": "x", "type": "quantitative", "scale": {"domain": [21184, 22751], "nice": false, "zero": false}, "axis": null}, "text": {"field": "t"}}},
        {"data": {"name": "rowlab"}, "transform": [{"filter": "datum.tr=='gene'"}],
         "mark": {"type": "text", "align": "right", "dy": 10, "font": "Liberation Serif", "fontStyle": "italic", "fontSize": 13.5, "color": "#000000"},
         "encoding": {"x": {"field": "x", "type": "quantitative", "scale": {"domain": [21184, 22751], "nice": false, "zero": false}, "axis": null}, "text": {"field": "t"}}},
        {"data": {"name": "bp"},
         "mark": {"type": "text", "dy": -7, "font": "Liberation Serif", "fontStyle": "italic", "fontSize": 13, "color": "#000000"},
         "encoding": {"x": {"field": "m", "type": "quantitative", "scale": {"domain": [21184, 22751], "nice": false, "zero": false}, "axis": null}, "text": {"field": "b"}}},
        {"data": {"name": "bp"},
         "mark": {"type": "rule", "strokeWidth": 1.5, "color": "#000000"},
         "encoding": {"x": {"field": "s", "type": "quantitative", "scale": {"domain": [21184, 22751], "nice": false, "zero": false}, "axis": null}, "x2": {"field": "e"}}},
        {"data": {"name": "bpends"},
         "mark": {"type": "tick", "size": 5, "thickness": 1.5, "yOffset": 2, "color": "#000000"},
         "encoding": {"x": {"field": "x", "type": "quantitative", "scale": {"domain": [21184, 22751], "nice": false, "zero": false}, "axis": null}}},
        {"data": {"name": "sd"},
         "mark": {"type": "bar", "height": 11, "yOffset": -2},
         "encoding": {
           "x": {"field": "s", "type": "quantitative", "scale": {"domain": [21184, 22751], "nice": false, "zero": false}, "axis": null}, "x2": {"field": "e"},
           "color": {"field": "c", "type": "nominal", "legend": null,
             "scale": {"domain": ["gray","purple","orange","green","red","faint","gray2","purple2","orange2","green2"], "range": ["#cccccc","#b6a0d8","#f5a530","#50bf88","#ee2b2b","#e4e4e4","#e2e2e2","#d3c5ea","#e58a1a","#7ccfa4"]}}}},
        {"data": {"name": "genes"},
         "mark": {"type": "rule", "strokeWidth": 1.4, "color": "#000000"},
         "encoding": {"x": {"field": "s", "type": "quantitative", "scale": {"domain": [21184, 22751], "nice": false, "zero": false}, "axis": null}, "x2": {"field": "e"}}},
        {"data": {"name": "genes"},
         "mark": {"type": "point", "filled": true, "size": 28, "opacity": 1, "color": "#000000"},
         "encoding": {"x": {"field": "h", "type": "quantitative", "scale": {"domain": [21184, 22751], "nice": false, "zero": false}, "axis": null},
           "shape": {"field": "dir", "type": "nominal", "legend": null, "scale": {"domain": ["l","r"], "range": ["triangle-left","triangle-right"]}}}},
        {"data": {"name": "genes"},
         "mark": {"type": "text", "dy": 11, "font": "Liberation Serif", "fontStyle": "italic", "fontSize": 9.5, "color": "#000000"},
         "encoding": {"x": {"field": "m", "type": "quantitative", "scale": {"domain": [21184, 22751], "nice": false, "zero": false}, "axis": null}, "text": {"field": "n"}}}
      ]
    },
    {
      "width": 556, "height": 67,
      "encoding": {
        "x": {"field": "x", "type": "quantitative", "scale": {"domain": [21184, 22751], "nice": false, "zero": false}, "axis": null}
      },
      "layer": [
        {"data": {"name": "bg"}, "mark": {"type": "area", "color": "#6cbe45"},
         "encoding": {
           "y": {"field": "mac", "type": "quantitative", "scale": {"domain": [0, 480], "reverse": true, "nice": false},
             "axis": {"title": "Macaque", "values": [0,100,150,200,250,380]}}}},
        {"data": {"name": "ylab"}, "transform": [{"filter": "datum.sp=='mac' && !datum.last"}],
         "mark": {"type": "text", "align": "right", "baseline": "middle", "dx": -5, "font": "Liberation Sans", "fontSize": 7, "color": "#333333"},
         "encoding": {
           "y": {"field": "v", "type": "quantitative", "axis": {"title": "Macaque"}, "scale": {"domain": [0, 480], "reverse": true, "nice": false}},
           "text": {"field": "lab"}}},
        {"data": {"name": "ylab"}, "transform": [{"filter": "datum.sp=='mac' && datum.last"}],
         "mark": {"type": "text", "align": "right", "baseline": "middle", "dx": -5, "font": "Liberation Sans", "fontSize": 7, "color": "#b0b0b0"},
         "encoding": {
           "y": {"field": "v", "type": "quantitative", "axis": {"title": "Macaque"}, "scale": {"domain": [0, 480], "reverse": true, "nice": false}},
           "text": {"field": "lab"}}},
        {"data": {"values": [{"x": 21184}]}, "mark": {"type": "rule", "color": "#404040", "strokeWidth": 1.5},
         "encoding": {"x": {"value": 0}, "x2": {"value": 556}, "y": {"datum": 0, "axis": {"title": "Macaque"}, "scale": {"domain": [0, 480], "reverse": true, "nice": false}}}}
      ]
    },
    {
      "width": 556, "height": 83,
      "encoding": {
        "x": {"field": "x", "type": "quantitative", "scale": {"domain": [21184, 22751], "nice": false, "zero": false}, "axis": null}
      },
      "layer": [
        {"data": {"name": "bg"}, "mark": {"type": "area", "color": "#6cbe45"},
         "encoding": {
           "y": {"field": "gib", "type": "quantitative", "scale": {"domain": [0, 350], "reverse": true, "nice": false},
             "axis": {"title": "Gibbon", "values": [0,55,110,156,207,295]}}}},
        {"data": {"name": "pk"}, "transform": [{"filter": "datum.sp=='gib'"}], "mark": {"type": "area"},
         "encoding": {
           "y": {"field": "d", "type": "quantitative", "stack": null, "axis": {"title": "Gibbon"}, "scale": {"domain": [0, 350], "reverse": true, "nice": false}},
           "detail": {"field": "g"},
           "color": {"field": "c", "type": "nominal", "legend": null, "scale": {"domain": ["r","k"], "range": ["#ee3b3b","#999999"]}}}},
        {"data": {"name": "ylab"}, "transform": [{"filter": "datum.sp=='gib' && !datum.last"}],
         "mark": {"type": "text", "align": "right", "baseline": "middle", "dx": -5, "font": "Liberation Sans", "fontSize": 7, "color": "#333333"},
         "encoding": {
           "y": {"field": "v", "type": "quantitative", "axis": {"title": "Gibbon"}, "scale": {"domain": [0, 350], "reverse": true, "nice": false}},
           "text": {"field": "lab"}}},
        {"data": {"name": "ylab"}, "transform": [{"filter": "datum.sp=='gib' && datum.last"}],
         "mark": {"type": "text", "align": "right", "baseline": "middle", "dx": -5, "font": "Liberation Sans", "fontSize": 7, "color": "#b0b0b0"},
         "encoding": {
           "y": {"field": "v", "type": "quantitative", "axis": {"title": "Gibbon"}, "scale": {"domain": [0, 350], "reverse": true, "nice": false}},
           "text": {"field": "lab"}}},
        {"data": {"values": [{"x": 21184}]}, "mark": {"type": "rule", "color": "#404040", "strokeWidth": 1.5},
         "encoding": {"x": {"value": 0}, "x2": {"value": 556}, "y": {"datum": 0, "axis": {"title": "Gibbon"}, "scale": {"domain": [0, 350], "reverse": true, "nice": false}}}}
      ]
    },
    {
      "width": 556, "height": 81,
      "encoding": {
        "x": {"field": "x", "type": "quantitative", "scale": {"domain": [21184, 22751], "nice": false, "zero": false}, "axis": null}
      },
      "layer": [
        {"data": {"name": "bg"}, "mark": {"type": "area", "color": "#6cbe45"},
         "encoding": {
           "y": {"field": "ora", "type": "quantitative", "scale": {"domain": [0, 450], "reverse": true, "nice": false},
             "axis": {"title": "Orangutan", "values": [0,50,100,150,200,250,300,383]}}}},
        {"data": {"name": "pk"}, "transform": [{"filter": "datum.sp=='ora'"}], "mark": {"type": "area"},
         "encoding": {
           "y": {"field": "d", "type": "quantitative", "stack": null, "axis": {"title": "Orangutan"}, "scale": {"domain": [0, 450], "reverse": true, "nice": false}},
           "detail": {"field": "g"},
           "color": {"field": "c", "type": "nominal", "legend": null, "scale": {"domain": ["r","k"], "range": ["#ee3b3b","#999999"]}}}},
        {"data": {"name": "ylab"}, "transform": [{"filter": "datum.sp=='ora' && !datum.last"}],
         "mark": {"type": "text", "align": "right", "baseline": "middle", "dx": -5, "font": "Liberation Sans", "fontSize": 7, "color": "#333333"},
         "encoding": {
           "y": {"field": "v", "type": "quantitative", "axis": {"title": "Orangutan"}, "scale": {"domain": [0, 450], "reverse": true, "nice": false}},
           "text": {"field": "lab"}}},
        {"data": {"name": "ylab"}, "transform": [{"filter": "datum.sp=='ora' && datum.last"}],
         "mark": {"type": "text", "align": "right", "baseline": "middle", "dx": -5, "font": "Liberation Sans", "fontSize": 7, "color": "#b0b0b0"},
         "encoding": {
           "y": {"field": "v", "type": "quantitative", "axis": {"title": "Orangutan"}, "scale": {"domain": [0, 450], "reverse": true, "nice": false}},
           "text": {"field": "lab"}}},
        {"data": {"values": [{"x": 21184}]}, "mark": {"type": "rule", "color": "#404040", "strokeWidth": 1.5},
         "encoding": {"x": {"value": 0}, "x2": {"value": 556}, "y": {"datum": 0, "axis": {"title": "Orangutan"}, "scale": {"domain": [0, 450], "reverse": true, "nice": false}}}}
      ]
    },
    {
      "width": 556, "height": 85,
      "encoding": {
        "x": {"field": "x", "type": "quantitative", "scale": {"domain": [21184, 22751], "nice": false, "zero": false}, "axis": null}
      },
      "layer": [
        {"data": {"name": "bg"}, "mark": {"type": "area", "color": "#6cbe45"},
         "encoding": {
           "y": {"field": "gor", "type": "quantitative", "scale": {"domain": [0, 7080], "reverse": true, "nice": false},
             "axis": {"title": "Gorilla", "values": [0,1000,1500,2000,2500,3000,3500,4000,4500,5750]}}}},
        {"data": {"name": "pk"}, "transform": [{"filter": "datum.sp=='gor'"}], "mark": {"type": "area"},
         "encoding": {
           "y": {"field": "d", "type": "quantitative", "stack": null, "axis": {"title": "Gorilla"}, "scale": {"domain": [0, 7080], "reverse": true, "nice": false}},
           "detail": {"field": "g"},
           "color": {"field": "c", "type": "nominal", "legend": null, "scale": {"domain": ["r","k"], "range": ["#ee3b3b","#999999"]}}}},
        {"data": {"name": "ylab"}, "transform": [{"filter": "datum.sp=='gor' && !datum.last"}],
         "mark": {"type": "text", "align": "right", "baseline": "middle", "dx": -5, "font": "Liberation Sans", "fontSize": 7, "color": "#333333"},
         "encoding": {
           "y": {"field": "v", "type": "quantitative", "axis": {"title": "Gorilla"}, "scale": {"domain": [0, 7080], "reverse": true, "nice": false}},
           "text": {"field": "lab"}}},
        {"data": {"name": "ylab"}, "transform": [{"filter": "datum.sp=='gor' && datum.last"}],
         "mark": {"type": "text", "align": "right", "baseline": "middle", "dx": -5, "font": "Liberation Sans", "fontSize": 7, "color": "#b0b0b0"},
         "encoding": {
           "y": {"field": "v", "type": "quantitative", "axis": {"title": "Gorilla"}, "scale": {"domain": [0, 7080], "reverse": true, "nice": false}},
           "text": {"field": "lab"}}},
        {"data": {"values": [{"x": 21184}]}, "mark": {"type": "rule", "color": "#404040", "strokeWidth": 1.5},
         "encoding": {"x": {"value": 0}, "x2": {"value": 556}, "y": {"datum": 0, "axis": {"title": "Gorilla"}, "scale": {"domain": [0, 7080], "reverse": true, "nice": false}}}}
      ]
    },
    {
      "width": 556, "height": 82,
      "encoding": {
        "x": {"field": "x", "type": "quantitative", "scale": {"domain": [21184, 22751], "nice": false, "zero": false}, "axis": null}
      },
      "layer": [
        {"data": {"name": "bg"}, "mark": {"type": "area", "color": "#6cbe45"},
         "encoding": {
           "y": {"field": "chi", "type": "quantitative", "scale": {"domain": [0, 456], "reverse": true, "nice": false},
             "axis": {"title": "Chimpanzee", "values": [0,54,100,150,200,250,300,389]}}}},
        {"data": {"name": "pk"}, "transform": [{"filter": "datum.sp=='chi'"}], "mark": {"type": "area"},
         "encoding": {
           "y": {"field": "d", "type": "quantitative", "stack": null, "axis": {"title": "Chimpanzee"}, "scale": {"domain": [0, 456], "reverse": true, "nice": false}},
           "detail": {"field": "g"},
           "color": {"field": "c", "type": "nominal", "legend": null, "scale": {"domain": ["r","k"], "range": ["#ee3b3b","#999999"]}}}},
        {"data": {"name": "ylab"}, "transform": [{"filter": "datum.sp=='chi' && !datum.last"}],
         "mark": {"type": "text", "align": "right", "baseline": "middle", "dx": -5, "font": "Liberation Sans", "fontSize": 7, "color": "#333333"},
         "encoding": {
           "y": {"field": "v", "type": "quantitative", "axis": {"title": "Chimpanzee"}, "scale": {"domain": [0, 456], "reverse": true, "nice": false}},
           "text": {"field": "lab"}}},
        {"data": {"name": "ylab"}, "transform": [{"filter": "datum.sp=='chi' && datum.last"}],
         "mark": {"type": "text", "align": "right", "baseline": "middle", "dx": -5, "font": "Liberation Sans", "fontSize": 7, "color": "#b0b0b0"},
         "encoding": {
           "y": {"field": "v", "type": "quantitative", "axis": {"title": "Chimpanzee"}, "scale": {"domain": [0, 456], "reverse": true, "nice": false}},
           "text": {"field": "lab"}}},
        {"data": {"values": [{"x": 21184}]}, "mark": {"type": "rule", "color": "#404040", "strokeWidth": 1.5},
         "encoding": {"x": {"value": 0}, "x2": {"value": 556}, "y": {"datum": 0, "axis": {"title": "Chimpanzee"}, "scale": {"domain": [0, 456], "reverse": true, "nice": false}}}}
      ]
    },
    {
      "width": 556, "height": 78,
      "encoding": {
        "x": {"field": "x", "type": "quantitative", "scale": {"domain": [21184, 22751], "nice": false, "zero": false}, "axis": null}
      },
      "layer": [
        {"data": {"name": "bg"}, "mark": {"type": "area", "color": "#6cbe45"},
         "encoding": {
           "y": {"field": "hum", "type": "quantitative", "scale": {"domain": [0, 433], "reverse": true, "nice": false},
             "axis": {"title": "Human", "values": [50,100,150,200,250,300,383]}}}},
        {"data": {"name": "pk"}, "transform": [{"filter": "datum.sp=='hum'"}], "mark": {"type": "area"},
         "encoding": {
           "y": {"field": "d", "type": "quantitative", "stack": null, "axis": {"title": "Human"}, "scale": {"domain": [0, 433], "reverse": true, "nice": false}},
           "detail": {"field": "g"},
           "color": {"field": "c", "type": "nominal", "legend": null, "scale": {"domain": ["r","k"], "range": ["#ee3b3b","#999999"]}}}},
        {"data": {"name": "ylab"}, "transform": [{"filter": "datum.sp=='hum' && !datum.last"}],
         "mark": {"type": "text", "align": "right", "baseline": "middle", "dx": -5, "font": "Liberation Sans", "fontSize": 7, "color": "#333333"},
         "encoding": {
           "y": {"field": "v", "type": "quantitative", "axis": {"title": "Human"}, "scale": {"domain": [0, 433], "reverse": true, "nice": false}},
           "text": {"field": "lab"}}},
        {"data": {"name": "ylab"}, "transform": [{"filter": "datum.sp=='hum' && datum.last"}],
         "mark": {"type": "text", "align": "right", "baseline": "middle", "dx": -5, "font": "Liberation Sans", "fontSize": 7, "color": "#b0b0b0"},
         "encoding": {
           "y": {"field": "v", "type": "quantitative", "axis": {"title": "Human"}, "scale": {"domain": [0, 433], "reverse": true, "nice": false}},
           "text": {"field": "lab"}}},
        {"data": {"values": [{"x": 21184}]}, "mark": {"type": "rule", "color": "#404040", "strokeWidth": 1.5},
         "encoding": {"x": {"value": 0}, "x2": {"value": 556}, "y": {"datum": 0, "axis": {"title": "Human"}, "scale": {"domain": [0, 433], "reverse": true, "nice": false}}}}
      ]
    }
  ]
}
